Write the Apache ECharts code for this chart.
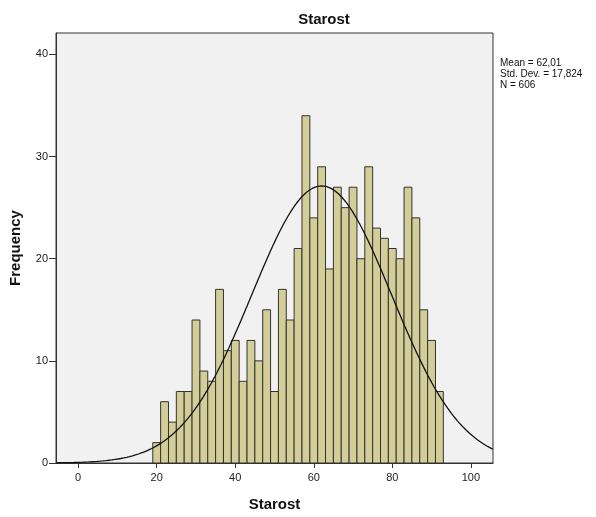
<!DOCTYPE html>
<html>
<head>
<meta charset="utf-8">
<script src="https://cdn.jsdelivr.net/npm/echarts@6/dist/echarts.min.js"></script>
<style>html,body{margin:0;padding:0;background:#fff}#c{width:596px;height:517px}</style>
</head>
<body>
<div id="c"></div>
<script>
// Bin lower edges (width 2) and frequencies
const binStarts = [19,21,23,25,27,29,31,33,35,37,39,41,43,45,47,49,51,53,55,57,59,61,63,65,67,69,71,73,75,77,79,81,83,85,87,89,91];
const binWidth = 2;
const counts = [2,6,4,7,7,14,9,8,17,11,12,8,12,10,15,7,17,14,21,34,24,29,19,27,25,27,20,29,23,22,21,20,27,24,15,12,7];
const xTicks = [0,20,40,60,80,100];
const yTicks = [0,10,20,30,40];
const statsLines = ['Mean = 62,01','Std. Dev. = 17,824','N = 606'];
const mean = 62.01, sd = 17.824, n = 606;

const histData = binStarts.map((s,i)=>[s, s+binWidth, counts[i]]);
// Normal curve scaled to histogram (SPSS style), from stated mean / sd / N
const curve = [];
for (let x = -5.65; x <= 105.66; x += 0.25) {
  const y = n*binWidth/(sd*Math.sqrt(2*Math.PI))*Math.exp(-0.5*Math.pow((x-mean)/sd,2));
  curve.push([x, y]);
}

const chart = echarts.init(document.getElementById('c'));
const font = 'Liberation Sans, Arial, sans-serif';
chart.setOption({
  animation:false,
  title:{text:'Starost', left:319, top:7, textAlign:'center',
    textStyle:{fontFamily:font, fontSize:15, fontWeight:'bold', color:'#111'}},
  grid:{left:54, top:33, width:439, height:434, show:true, backgroundColor:'#F0F1F0', borderColor:'#333', borderWidth:1},
  xAxis:{type:'value', min:-5.65, max:105.65,
    name:'Starost', nameLocation:'middle', nameGap:34,
    nameTextStyle:{fontFamily:font, fontSize:15, fontWeight:'bold', color:'#111'},
    axisLine:{show:true, onZero:false, lineStyle:{color:'#333', width:1}},
    axisTick:{show:true, length:5, customValues:xTicks, lineStyle:{color:'#333'}},
    axisLabel:{customValues:xTicks, fontFamily:font, fontSize:11, color:'#222', margin:9},
    splitLine:{show:false}},
  yAxis:{type:'value', min:0, max:42.1,
    name:'Frequency', nameLocation:'middle', nameGap:33, nameRotate:90,
    nameTextStyle:{fontFamily:font, fontSize:15, fontWeight:'bold', color:'#111'},
    axisLine:{show:true, onZero:false, lineStyle:{color:'#333', width:1}},
    axisTick:{show:true, length:7, customValues:yTicks, lineStyle:{color:'#333'}},
    axisLabel:{customValues:yTicks, fontFamily:font, fontSize:11, color:'#222', margin:8},
    splitLine:{show:false}},
  graphic:[{type:'text', left:500, top:58, style:{text:statsLines.join('\n'), font:'10px '+font, fill:'#111', lineHeight:11}}],
  series:[
    {type:'custom', data:histData, renderItem:function(params, api){
      const p0 = api.coord([api.value(0), api.value(2)]);
      const p1 = api.coord([api.value(1), 0]);
      return {type:'rect', shape:{x:p0[0], y:p0[1], width:p1[0]-p0[0], height:p1[1]-p0[1]},
        style:{fill:'#D3CE98', stroke:'#333', lineWidth:1}};
    }, encode:{x:[0,1], y:2}},
    {type:'line', data:curve, showSymbol:false, smooth:false, lineStyle:{color:'#111', width:1.3}, z:5}
  ]
});
</script>
</body>
</html>
